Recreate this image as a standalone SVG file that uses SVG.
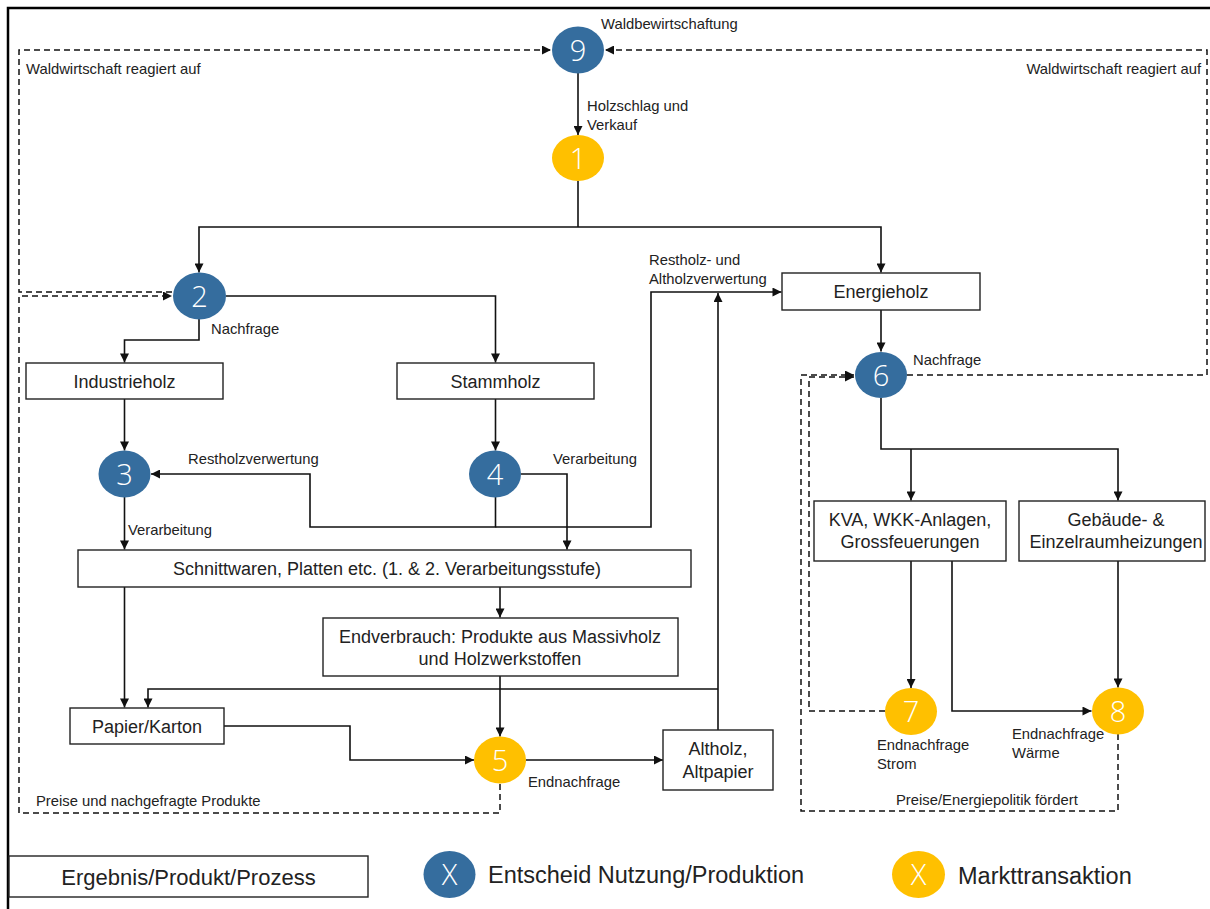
<svg xmlns="http://www.w3.org/2000/svg" width="1210" height="909" viewBox="0 0 1210 909">
  <defs>
    <marker id="arrow" viewBox="0 0 10 10" markerWidth="10" markerHeight="9" refX="10" refY="5" orient="auto" markerUnits="userSpaceOnUse">
      <path d="M0,0 L10,5 L0,10 z" fill="#111"/>
    </marker>
    <style>
      text { font-family: "Liberation Sans", Arial, sans-serif; fill: #222; }
      .lbl { font-size: 14.8px; }
      .box rect { fill: #fff; stroke: #222; stroke-width: 1.4; }
      .box text { font-size: 18px; text-anchor: middle; }
      .num { font-family: "Open Sans", "Noto Sans", sans-serif; font-weight: 300; font-size: 29px; fill: #fff; text-anchor: middle; }
      .blue { fill: #356d9e; }
      .yellow { fill: #ffc000; }
      .flow { fill: none; stroke: #111; stroke-width: 1.6; }
      .dash { fill: none; stroke: #111; stroke-width: 1.5; stroke-dasharray: 6 4; }
      .legend { font-size: 23.5px; }
    </style>
  </defs>

  <rect width="1210" height="909" fill="#fff"/>
  <!-- outer frame -->
  <path d="M8 909 V8 H1210" fill="none" stroke="#000" stroke-width="2.5"/>

  <!-- feedback loops (dashed) -->
  <g id="feedback">
    <path class="dash" d="M172 292 H19 V50 H551" marker-end="url(#arrow)"/>
    <path class="dash" d="M500 784 V813 H19 V296 H172" marker-end="url(#arrow)"/>
    <path class="dash" d="M907 375 H1207 V50 H605" marker-end="url(#arrow)"/>
    <path class="dash" d="M885 711 H809 V377 H854" marker-end="url(#arrow)"/>
    <path class="dash" d="M1118 734 V811 H801 V375 H854" marker-end="url(#arrow)"/>
  </g>

  <!-- flows -->
  <g id="connectors">
    <path class="flow" d="M578 73 V135" marker-end="url(#arrow)"/>
    <path class="flow" d="M578 181 V227"/>
    <path class="flow" d="M578 227 H199 V272.5" marker-end="url(#arrow)"/>
    <path class="flow" d="M578 227 H881 V272.5" marker-end="url(#arrow)"/>
    <path class="flow" d="M226 296 H495.5 V362.5" marker-end="url(#arrow)"/>
    <path class="flow" d="M199 319 V340 H124.5 V362.5" marker-end="url(#arrow)"/>
    <path class="flow" d="M124.5 399 V450.5" marker-end="url(#arrow)"/>
    <path class="flow" d="M495.5 399 V450.5" marker-end="url(#arrow)"/>
    <path class="flow" d="M495.5 497 V527 H310 V474 H151" marker-end="url(#arrow)"/>
    <path class="flow" d="M495.5 527 H651 V292 H781.5" marker-end="url(#arrow)"/>
    <path class="flow" d="M521 474 H567 V549.5" marker-end="url(#arrow)"/>
    <path class="flow" d="M124.5 497 V549.5" marker-end="url(#arrow)"/>
    <path class="flow" d="M500 587 V617.5" marker-end="url(#arrow)"/>
    <path class="flow" d="M124.5 587 V707.5" marker-end="url(#arrow)"/>
    <path class="flow" d="M718 730 V293" marker-end="url(#arrow)"/>
    <path class="flow" d="M718 689 H148 V707.5" marker-end="url(#arrow)"/>
    <path class="flow" d="M500 676 V736.5" marker-end="url(#arrow)"/>
    <path class="flow" d="M224 726 H350 V760 H474" marker-end="url(#arrow)"/>
    <path class="flow" d="M526 760 H663" marker-end="url(#arrow)"/>
    <path class="flow" d="M881 310 V351.5" marker-end="url(#arrow)"/>
    <path class="flow" d="M881 398 V449 H1118 V500.5" marker-end="url(#arrow)"/>
    <path class="flow" d="M911 449 V500.5" marker-end="url(#arrow)"/>
    <path class="flow" d="M911 561 V688" marker-end="url(#arrow)"/>
    <path class="flow" d="M952 561 V711 H1091.5" marker-end="url(#arrow)"/>
    <path class="flow" d="M1118 561 V687.5" marker-end="url(#arrow)"/>
  </g>

  <!-- connector labels -->
  <g id="labels" class="lbl">
    <text x="26" y="74">Waldwirtschaft reagiert auf</text>
    <text x="1201" y="74" text-anchor="end">Waldwirtschaft reagiert auf</text>
    <text x="601" y="29">Waldbewirtschaftung</text>
    <text x="587" y="111">Holzschlag und</text>
    <text x="587" y="130">Verkauf</text>
    <text x="649" y="265">Restholz- und</text>
    <text x="649" y="284">Altholzverwertung</text>
    <text x="211" y="334">Nachfrage</text>
    <text x="913" y="365">Nachfrage</text>
    <text x="188" y="464">Restholzverwertung</text>
    <text x="553" y="464">Verarbeitung</text>
    <text x="128" y="535">Verarbeitung</text>
    <text x="528" y="787">Endnachfrage</text>
    <text x="36" y="806">Preise und nachgefragte Produkte</text>
    <text x="877" y="750">Endnachfrage</text>
    <text x="877" y="769">Strom</text>
    <text x="1012" y="739">Endnachfrage</text>
    <text x="1012" y="758">Wärme</text>
    <text x="896" y="805">Preise/Energiepolitik fördert</text>
  </g>

  <!-- decision / market nodes -->
  <g id="n9"><ellipse class="blue" cx="578" cy="50" rx="26" ry="23.5"/><text class="num" x="578" y="60.5">9</text></g>
  <g id="n1"><ellipse class="yellow" cx="578" cy="158" rx="26" ry="23"/><text class="num" x="578" y="168.5">1</text></g>
  <g id="n2"><ellipse class="blue" cx="199.5" cy="296" rx="26.5" ry="23.5"/><text class="num" x="199.5" y="306.5">2</text></g>
  <g id="n3"><ellipse class="blue" cx="124.5" cy="474" rx="26" ry="23.5"/><text class="num" x="124.5" y="484.5">3</text></g>
  <g id="n4"><ellipse class="blue" cx="495" cy="474" rx="26" ry="23.5"/><text class="num" x="495" y="484.5">4</text></g>
  <g id="n5"><ellipse class="yellow" cx="500" cy="760" rx="26" ry="23.5"/><text class="num" x="500" y="770.5">5</text></g>
  <g id="n6"><ellipse class="blue" cx="881" cy="375" rx="26" ry="23"/><text class="num" x="881" y="385.5">6</text></g>
  <g id="n7"><ellipse class="yellow" cx="911" cy="711.5" rx="26" ry="23.5"/><text class="num" x="911" y="722">7</text></g>
  <g id="n8"><ellipse class="yellow" cx="1118" cy="711" rx="26" ry="23.5"/><text class="num" x="1118" y="721.5">8</text></g>

  <!-- product / process boxes -->
  <g id="energieholz" class="box"><rect x="782" y="273" width="198" height="37"/><text x="881" y="298">Energieholz</text></g>
  <g id="industrieholz" class="box"><rect x="26" y="363" width="197" height="36"/><text x="124.5" y="387.5">Industrieholz</text></g>
  <g id="stammholz" class="box"><rect x="397" y="363" width="197" height="36"/><text x="495.5" y="387.5">Stammholz</text></g>
  <g id="schnittwaren" class="box"><rect x="78" y="550" width="613" height="37"/><text x="387" y="575">Schnittwaren, Platten etc. (1. &amp; 2. Verarbeitungsstufe)</text></g>
  <g id="endverbrauch" class="box"><rect x="323" y="618" width="355" height="58"/><text x="500" y="643">Endverbrauch: Produkte aus Massivholz</text><text x="500" y="665">und Holzwerkstoffen</text></g>
  <g id="papier" class="box"><rect x="70" y="708" width="154" height="36"/><text x="147" y="732.5">Papier/Karton</text></g>
  <g id="altholz" class="box"><rect x="663" y="730" width="110" height="60"/><text x="718" y="755">Altholz,</text><text x="718" y="778">Altpapier</text></g>
  <g id="kva" class="box"><rect x="814" y="501" width="192" height="60"/><text x="910" y="526">KVA, WKK-Anlagen,</text><text x="910" y="548">Grossfeuerungen</text></g>
  <g id="gebaeude" class="box"><rect x="1019" y="501" width="186" height="60"/><text x="1116" y="526">Gebäude- &amp;</text><text x="1116" y="548">Einzelraumheizungen</text></g>

  <!-- legend -->
  <g id="legend-box" class="box"><rect x="9" y="856" width="359" height="41"/><text x="188.5" y="885" style="font-size:22px">Ergebnis/Produkt/Prozess</text></g>
  <g id="legend-decision"><ellipse class="blue" cx="449.5" cy="874.5" rx="26" ry="23.5"/><text class="num" x="449.5" y="885">X</text><text class="legend" x="488" y="883">Entscheid Nutzung/Produktion</text></g>
  <g id="legend-market"><ellipse class="yellow" cx="918.5" cy="874.5" rx="26.5" ry="23.5"/><text class="num" x="918.5" y="885">X</text><text class="legend" x="958" y="884">Markttransaktion</text></g>
</svg>
